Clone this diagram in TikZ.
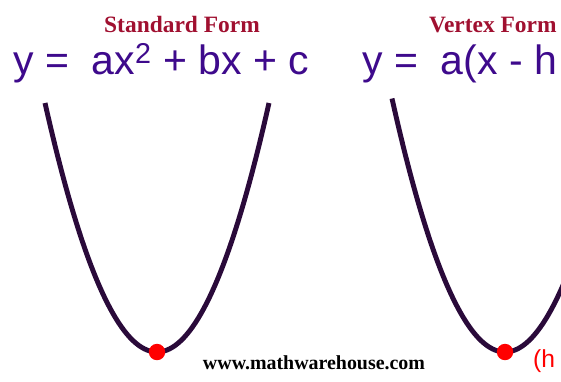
\documentclass[tikz,border=0pt]{standalone}
\usepackage{fontspec}
\setmainfont{Liberation Serif}
\setsansfont{Liberation Sans}
\usetikzlibrary{positioning}
\definecolor{titlered}{HTML}{A01030}
\definecolor{eqpurple}{HTML}{3E0A8C}
\definecolor{curvedark}{HTML}{2A0A3A}

\begin{document}
\begin{tikzpicture}[
        x=0.03cm, y=-0.03cm,
        title/.style={font=\fontsize{20}{22}\selectfont\bfseries, text=titlered, inner sep=0pt, anchor=base},
        equation/.style={font=\sffamily\fontsize{35}{38}\selectfont, text=eqpurple, inner sep=0pt, anchor=base west},
        curve/.style={line width=4.2pt, color=curvedark},
        vertex/.style={circle, fill=red, minimum size=14pt, inner sep=0pt},
        site/.style={font=\fontsize{17}{19}\selectfont\bfseries, inner sep=0pt, anchor=base}
    ]
    \useasboundingbox (0,0) rectangle (561,381);
    \clip (0,0) rectangle (561,381);

    % titles
    \node[title] (stdtitle) at (182,32) {Standard Form};
    \node[title, anchor=base west] (vtxtitle) at (429,32) {Vertex Form};

    % equations
    \node[equation] (stdeq) at (13,74) {y =\ \ ax\textsuperscript{2} + bx + c};
    \node[equation] (vtxeq) at (362,74) {y =\ \ a(x - h};

    % parabolas
    \draw[curve] plot[domain=-112:112, samples=80] ({157+\x},{352-0.01985*\x*\x});
    \draw[curve] plot[domain=-113:60, samples=80] ({505+\x},{352-0.01985*\x*\x});

    % vertices
    \node[vertex] (stdvtx) at (157,352) {};
    \node[vertex] (vtxvtx) at (505,352) {};

    \node[site] (site) at (314,369) {www.mathwarehouse.com};
    \node[font=\sffamily\fontsize{21}{22}\selectfont, text=red, inner sep=0pt, anchor=west] (hk) at (533,361) {(h};
\end{tikzpicture}
\end{document}
